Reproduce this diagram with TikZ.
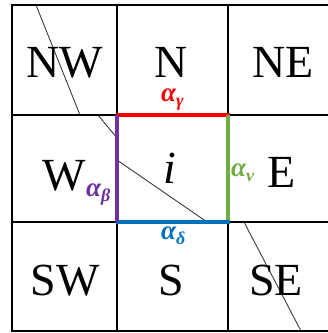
\documentclass[tikz,border=0pt]{standalone}
\usepackage{fontspec}
\setmainfont{Liberation Serif}
\definecolor{ared}{RGB}{255,0,0}
\definecolor{agreen}{RGB}{112,173,71}
\definecolor{ablue}{RGB}{0,112,192}
\definecolor{apurple}{RGB}{112,48,160}
\definecolor{dline}{RGB}{60,60,60}
\newcommand{\alab}[1]{{\fontsize{27}{27}\selectfont\bfseries\itshape α\raisebox{-5pt}{\fontsize{18}{18}\selectfont #1}}}
\begin{document}
\begin{tikzpicture}[x=1pt,y=-1pt,
  grid/.style={line width=2.4pt,black},
  edge/.style={line width=3.4pt},
  diag/.style={line width=0.9pt,dline},
  cell/.style={inner sep=0pt,anchor=base,text depth=0pt,font=\fontsize{46}{46}\selectfont},
  lab/.style={inner sep=0pt,anchor=base west,text depth=0pt,text height=13pt}]
\useasboundingbox (0,0) rectangle (328,333);
\clip (0,0) rectangle (328,333);
\fill[white] (0,0) rectangle (328,333);
% diagonals
\draw[diag] (36,5) -- (80,115);
\draw[diag] (98,115) -- (117,138);
\draw[diag] (117,160) -- (207,222);
\draw[diag] (244,222) -- (301,331);
% grid
\draw[grid] (12,5) rectangle (340,331);
\draw[grid] (117,5) -- (117,331);
\draw[grid] (228,5) -- (228,331);
\draw[grid] (12,115) -- (340,115);
\draw[grid] (12,222) -- (340,222);
% coloured edges of cell i
\draw[edge,ared] (115.5,115) -- (229.5,115);
\draw[edge,agreen] (228,115) -- (228,222);
\draw[edge,ablue] (115.5,222) -- (229.5,222);
\draw[edge,apurple] (117,115) -- (117,222);
% cell texts
\node[cell] (nw) at (65,77) {NW};
\node[cell] (n) at (171,77) {N};
\node[cell] (ne) at (283,77) {NE};
\node[cell] (w) at (64,190) {W};
\node[cell] (i) at (170,183) {\itshape i};
\node[cell] (e) at (282,187) {E};
\node[cell] (sw) at (65,295) {SW};
\node[cell] (s) at (171,295) {S};
\node[cell] (se) at (276,295) {SE};
% alpha labels
\node[lab,text=ared] (ag) at (161,101) {\alab{γ}};
\node[lab,text=apurple] (ab) at (86,196) {\alab{β}};
\node[lab,text=agreen] (an) at (231,176) {\alab{ν}};
\node[lab,text=ablue] (ad) at (161,239) {\alab{δ}};
\end{tikzpicture}
\end{document}
